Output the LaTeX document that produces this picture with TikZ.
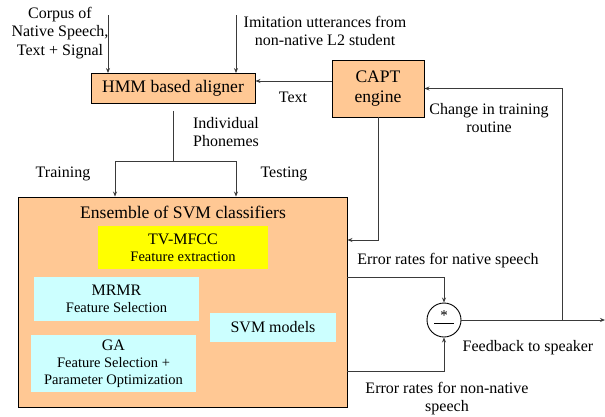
\documentclass[tikz,border=0pt]{standalone}
\usepackage{fontspec}
\setmainfont{Liberation Serif}
\usetikzlibrary{arrows.meta,calc}
\definecolor{peach}{HTML}{FFC894}
\definecolor{lcyan}{HTML}{CCFFFF}
\definecolor{lyellow}{HTML}{FFFF00}
\definecolor{ln}{HTML}{3A3A3A}
\begin{document}
\begin{tikzpicture}[x=1pt,y=-1pt,
  lab/.style={inner sep=0pt, align=center, font=\fontsize{16}{18.5}\selectfont},
  box/.style={draw=black, line width=0.9pt, fill=peach, inner sep=0pt, align=center, font=\fontsize{17.6}{20}\selectfont},
  sub/.style={fill=lcyan, inner sep=0pt, align=center, font=\fontsize{14.5}{16.8}\selectfont},
  conn/.style={draw=ln, line width=0.8pt},
  arr/.style={conn, -{Stealth[length=5pt,width=4pt]}}]
\useasboundingbox (0,0) rectangle (605,416);

% main boxes
\node[box, minimum width=164pt, minimum height=30pt] (hmm) at (173,88.5) {HMM based aligner};
\node[box, minimum width=92pt, minimum height=57pt] (capt) at (378,88.5) {CAPT\\engine};
\node[box, minimum width=329pt, minimum height=210pt] (ens) at (182.5,302) {};
\node[inner sep=0pt, font=\fontsize{17.6}{20}\selectfont] (enst) at (183,212) {Ensemble of SVM classifiers};

\node[sub, fill=lyellow, minimum width=170pt, minimum height=43pt] (tv) at (183,247.5) {{\fontsize{16}{17}\selectfont TV-MFCC}\\Feature extraction};
\node[sub, minimum width=165pt, minimum height=44pt] (mrmr) at (116.5,299) {{\fontsize{16}{17}\selectfont MRMR}\\Feature Selection};
\node[sub, minimum width=126pt, minimum height=29pt, font=\fontsize{16}{17}\selectfont] (svm) at (273,327.5) {SVM models};
\node[sub, minimum width=165pt, minimum height=57pt] (ga) at (113.5,363.5) {{\fontsize{16}{17}\selectfont GA}\\Feature Selection +\\Parameter Optimization};

% combiner
\node[circle, draw=black, line width=0.9pt, minimum size=34pt, inner sep=0pt] (circ) at (444,320) {};
\node[inner sep=0pt, font=\fontsize{15}{16}\selectfont] (star) at (444,316) {*};
\draw[line width=0.8pt] (434,323) -- (454,323);

% labels
\node[lab] (corpus) at (60,33) {Corpus of\\Native Speech,\\Text + Signal};
\node[lab] (imit) at (325,31) {Imitation utterances from\\non-native L2 student};
\node[lab] (textl) at (293,97) {Text};
\node[lab] (indiv) at (226,132) {Individual\\Phonemes};
\node[lab] (train) at (63,174) {Training};
\node[lab] (test) at (284,174) {Testing};
\node[lab] (chg) at (489,118) {Change in training\\routine};
\node[lab] (ern) at (448,261) {Error rates for native speech};
\node[lab] (fb) at (528,348) {Feedback to speaker};
\node[lab] (ernn) at (447,398.5) {Error rates for non-native\\speech};

% coordinates
\coordinate (in1) at (108,15);
\coordinate (in2) at (236,15);
\coordinate (split) at (173,161);
\coordinate (tl) at (115,161);
\coordinate (tr) at (236,161);
\coordinate (j) at (562,320);
\coordinate (out) at (605,320);

% connectors
\draw[arr] (in1) -- (in1 |- hmm.north);
\draw[arr] (in2) -- (in2 |- hmm.north);
\draw[arr] (capt.west |- 0,81) -- (hmm.east |- 0,81);
\draw[conn] ($(hmm.south)+(0,7)$) -- (split);
\draw[conn] (tl) -- (tr);
\draw[arr] (tl) -- (tl |- ens.north);
\draw[arr] (tr) -- (tr |- ens.north);
\draw[arr] (capt.south) |- (ens.east |- 0,240);
\draw[arr] (ens.east |- 0,277) -| (circ.north);
\draw[arr] (ens.east |- 0,371) -| (circ.south);
\draw[arr] (circ.east) -- (out);
\draw[arr] (j) |- (capt.east);
\end{tikzpicture}
\end{document}
